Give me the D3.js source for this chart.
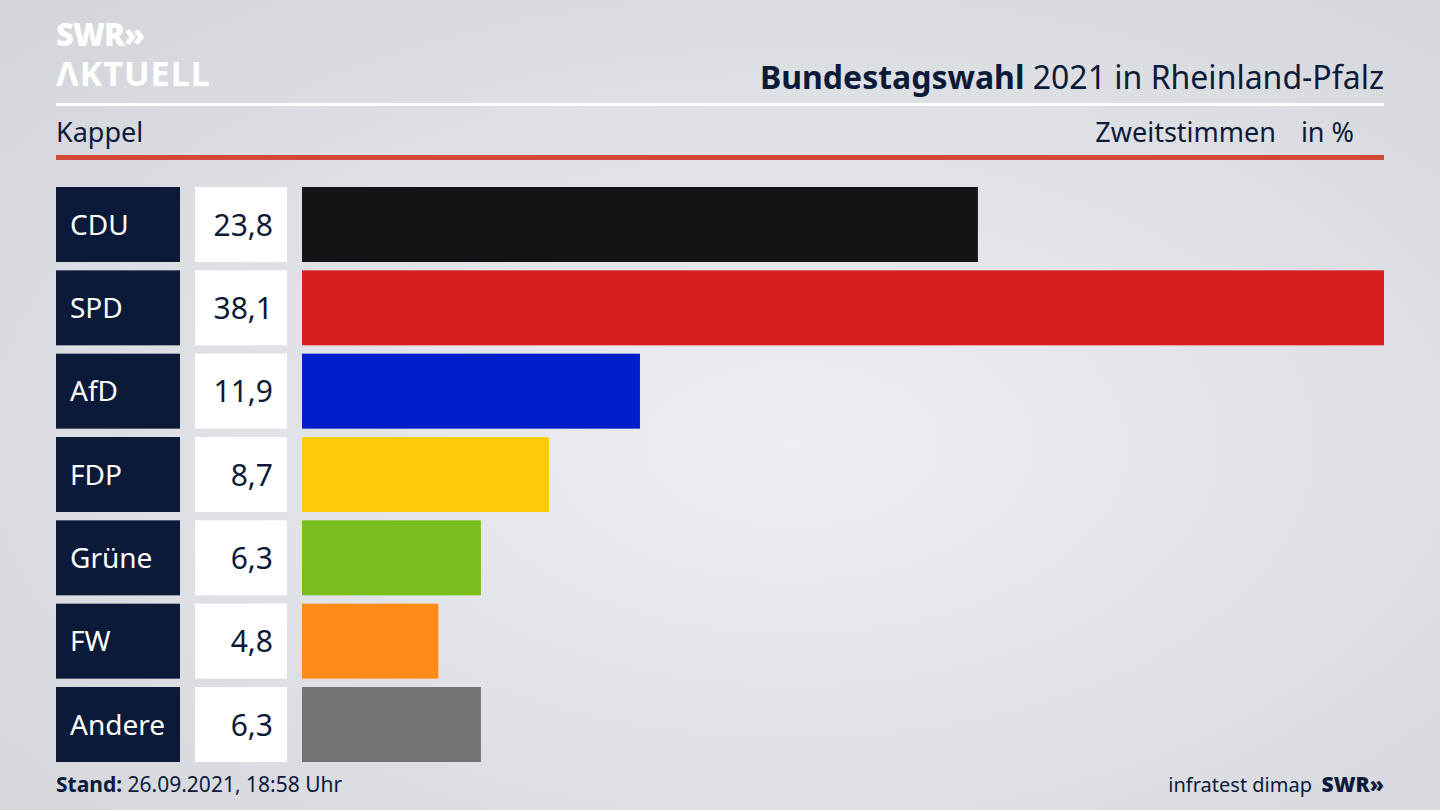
<!DOCTYPE html>
<html><head><meta charset="utf-8">
<script src="https://cdn.jsdelivr.net/npm/d3@7"></script>
<style>
body{margin:0;overflow:hidden}
svg{display:block;font-family:"Noto Sans","Open Sans",sans-serif}
</style></head>
<body><svg id="chart" width="1440" height="810"></svg>
<script>
// data
const parties = ['CDU', 'SPD', 'AfD', 'FDP', 'Grüne', 'FW', 'Andere'];
const values = [23.8, 38.1, 11.9, 8.7, 6.3, 4.8, 6.3];
const colors = ['#141414', '#d71f20', '#001ec9', '#ffcc09', '#79be1d', '#ff8c19', '#737373'];

const svg = d3.select('#chart');
const navy = '#0c1a3a';

const defs = svg.append('defs');
const grad = defs.append('radialGradient').attr('id', 'bg')
  .attr('cx', '55%').attr('cy', '55%').attr('r', '75%');
grad.append('stop').attr('offset', '0%').attr('stop-color', '#eeeff3');
grad.append('stop').attr('offset', '100%').attr('stop-color', '#d3d5da');
svg.append('rect').attr('width', 1440).attr('height', 810).attr('fill', 'url(#bg)');

// logo
svg.append('text').attr('x', 56).attr('y', 46).attr('fill', '#fff')
  .attr('font-size', 31).attr('font-weight', 900).attr('letter-spacing', -1).text('SWR»');
svg.append('text').attr('x', 56).attr('y', 86).attr('fill', '#fff')
  .attr('font-size', 34).attr('font-weight', 700).attr('letter-spacing', 1).text('ΛKTUELL');

// header
const title = svg.append('text').attr('x', 1384).attr('y', 89).attr('text-anchor', 'end')
  .attr('fill', navy).attr('font-size', 32);
title.append('tspan').attr('font-weight', 700).text('Bundestagswahl');
title.append('tspan').text(' 2021 in Rheinland-Pfalz');
svg.append('rect').attr('x', 56).attr('y', 103).attr('width', 1328).attr('height', 3).attr('fill', '#fff');
svg.append('text').attr('x', 56).attr('y', 142).attr('fill', navy).attr('font-size', 27).text('Kappel');
svg.append('text').attr('x', 1276).attr('y', 142).attr('text-anchor', 'end').attr('fill', navy)
  .attr('font-size', 27).text('Zweitstimmen');
svg.append('text').attr('x', 1354).attr('y', 142).attr('text-anchor', 'end').attr('fill', navy)
  .attr('font-size', 27).text('in %');
svg.append('rect').attr('x', 56).attr('y', 155).attr('width', 1328).attr('height', 5).attr('fill', '#d2493a');

// scales
const x = d3.scaleLinear().domain([0, d3.max(values)]).range([302, 1384]);
const y = d3.scaleBand().domain(parties).range([187, 762]).paddingInner(0.1).paddingOuter(0);

const rows = svg.append('g').selectAll('g').data(parties).join('g');
rows.append('rect').attr('x', 56).attr('y', d => y(d)).attr('width', 124)
  .attr('height', y.bandwidth()).attr('fill', navy);
rows.append('text').attr('x', 70).attr('y', d => y(d) + y.bandwidth() / 2 + 10)
  .attr('fill', '#fff').attr('font-size', 28).text(d => d);
rows.append('rect').attr('x', 195).attr('y', d => y(d)).attr('width', 92)
  .attr('height', y.bandwidth()).attr('fill', '#fff');
rows.append('text').attr('x', 273).attr('y', d => y(d) + y.bandwidth() / 2 + 11)
  .attr('text-anchor', 'end').attr('fill', navy).attr('font-size', 30)
  .text((d, i) => d3.format('.1f')(values[i]).replace('.', ','));
rows.append('rect').attr('x', x(0)).attr('y', d => y(d))
  .attr('width', (d, i) => x(values[i]) - x(0)).attr('height', y.bandwidth())
  .attr('fill', (d, i) => colors[i]);

// footer
const st = svg.append('text').attr('x', 56).attr('y', 792).attr('fill', navy).attr('font-size', 21);
st.append('tspan').attr('font-weight', 700).text('Stand:');
st.append('tspan').text(' 26.09.2021, 18:58 Uhr');
svg.append('text').attr('x', 1312).attr('y', 792).attr('text-anchor', 'end').attr('fill', navy)
  .attr('font-size', 20).text('infratest dimap');
svg.append('text').attr('x', 1384).attr('y', 792).attr('text-anchor', 'end').attr('fill', navy)
  .attr('font-size', 21).attr('font-weight', 900).text('SWR»');
</script></body></html>
